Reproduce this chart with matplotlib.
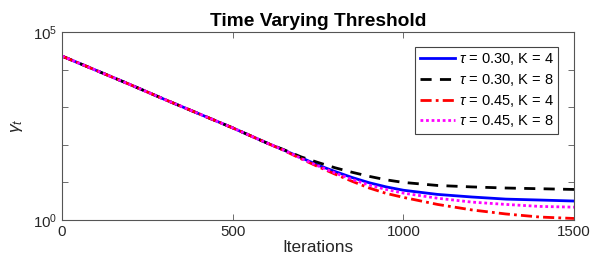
import numpy as np
import matplotlib
matplotlib.use("Agg")
import matplotlib.pyplot as plt

plt.rcParams['font.family'] = ['Liberation Sans', 'DejaVu Sans']
plt.rcParams['mathtext.fontset'] = 'custom'
plt.rcParams['mathtext.rm'] = 'Liberation Sans'
plt.rcParams['mathtext.it'] = 'Liberation Sans:italic'

iters = [0, 100, 200, 300, 400, 500, 600, 650, 700, 750, 800, 850, 900, 950,
         1000, 1100, 1200, 1300, 1400, 1500]
common = [22900, 9550, 3980, 1620, 676, 282, 112]
tau030_k4 = common + [72.4, 45.7, 28.8, 19.5, 13.5, 9.8, 7.6, 6.2, 4.8, 4.1, 3.6, 3.4, 3.2]
tau030_k8 = common + [74.1, 47.9, 33.9, 24.5, 18.6, 14.5, 11.7, 10.0, 8.3, 7.6, 7.1, 6.8, 6.5]
tau045_k4 = common + [70.8, 42.7, 26.3, 16.6, 10.7, 7.1, 5.1, 4.0, 2.6, 1.86, 1.45, 1.2, 1.1]
tau045_k8 = common + [72.4, 43.7, 27.5, 17.8, 12.0, 8.5, 6.5, 5.2, 3.8, 3.0, 2.6, 2.3, 2.2]
labels = [r'$\tau$ = 0.30, K = 4', r'$\tau$ = 0.30, K = 8',
          r'$\tau$ = 0.45, K = 4', r'$\tau$ = 0.45, K = 8']

fig = plt.figure(figsize=(5.92, 2.68), dpi=100)
ax = fig.add_axes([0.1047, 0.179, 0.865, 0.7016])

ax.plot(iters, tau030_k4, color='blue', lw=2, ls='-', label=labels[0])
ax.plot(iters, tau030_k8, color='black', lw=2, ls=(0, (4, 3)), label=labels[1])
ax.plot(iters, tau045_k4, color='red', lw=2, ls=(0, (4, 1.5, 1, 1.5)), label=labels[2])
ax.plot(iters, tau045_k8, color='magenta', lw=2, ls=(0, (1, 1)), label=labels[3])

ax.set_yscale('log')
ax.set_ylim(1, 1e5)
ax.set_xlim(0, 1500)
ax.set_yticks([1, 10, 100, 1e3, 1e4, 1e5])
ax.set_yticklabels(['$10^0$', '', '', '', '', '$10^5$'])
ax.minorticks_off()
ax.set_xticks([0, 500, 1000, 1500])

grey = '#262626'
for s in ax.spines.values():
    s.set_color('#555555')
    s.set_linewidth(0.8)
ax.tick_params(direction='in', top=True, right=True, length=4, width=0.6,
               colors='#555555', labelcolor=grey, labelsize=10.8)

ax.set_title('Time Varying Threshold', fontsize=13.8, fontweight='bold', pad=4)
ax.set_xlabel('Iterations', fontsize=12.4, color=grey, labelpad=1)
ax.set_ylabel(r'$\gamma_t$', fontsize=12.5, color=grey, labelpad=6)

leg = ax.legend(loc='upper right', bbox_to_anchor=(0.969, 0.92), fontsize=10.5,
                handlelength=2.4, handletextpad=0.3, borderpad=0.3,
                labelspacing=0.32, borderaxespad=0, fancybox=False, framealpha=1)
leg.get_frame().set_edgecolor('#444444')
leg.get_frame().set_linewidth(0.8)

fig.savefig('out.png', dpi=100)
